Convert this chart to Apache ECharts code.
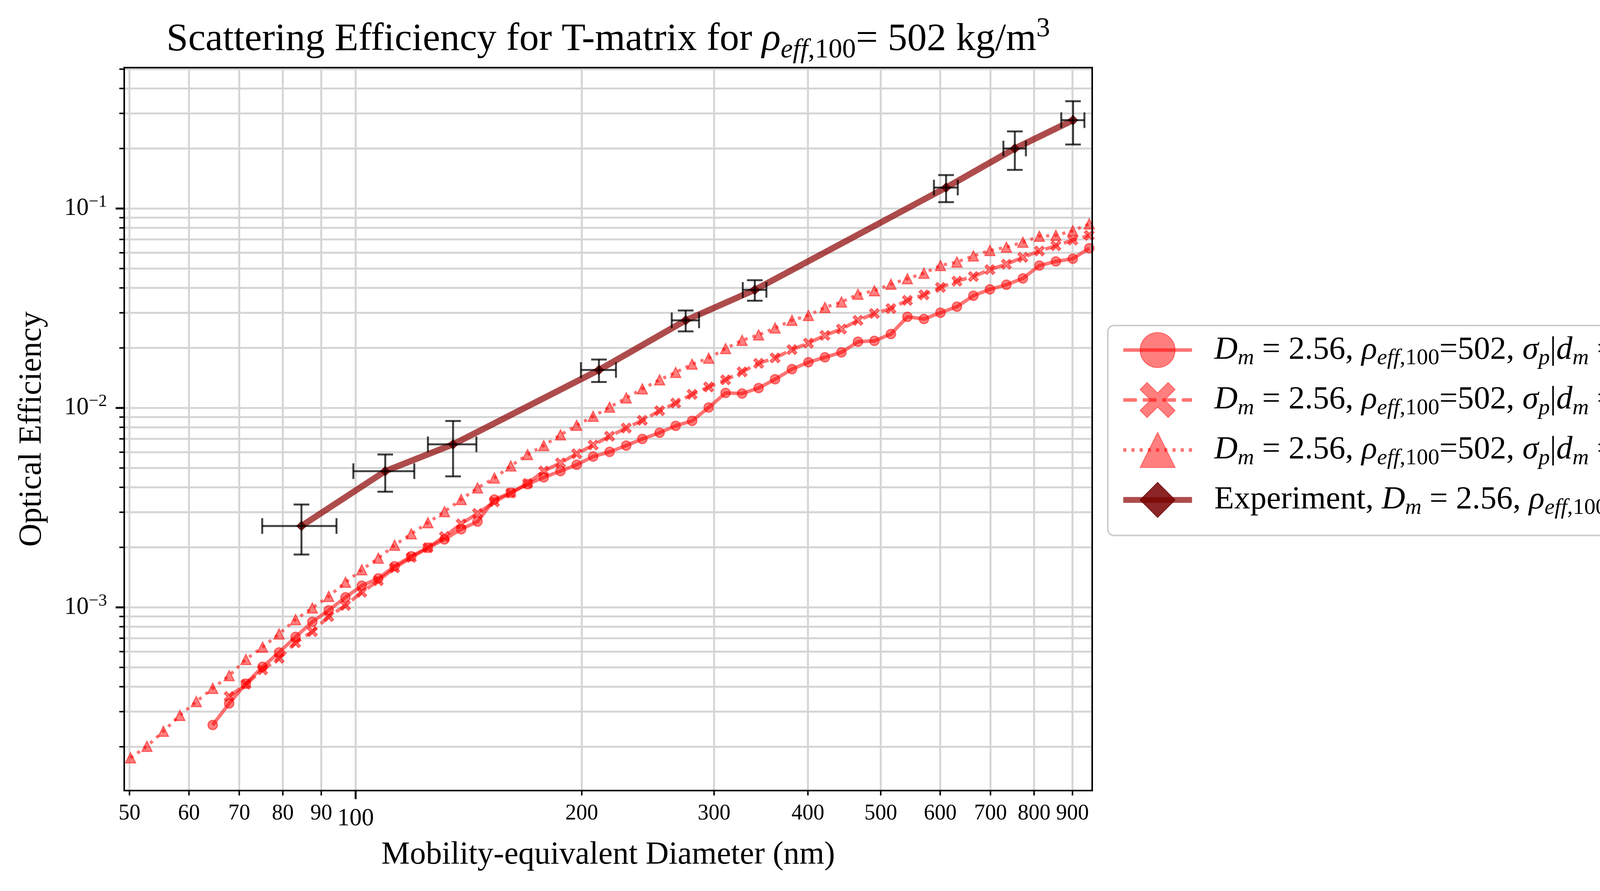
<!DOCTYPE html>
<html>
<head>
<meta charset="utf-8">
<title>Scattering Efficiency for T-matrix</title>
<script src="https://cdn.jsdelivr.net/npm/echarts@6/dist/echarts.min.js"></script>
<style>
html, body { margin: 0; padding: 0; background: #fff; }
#chart { width: 5292px; height: 2280px; }
</style>
</head>
<body>
<div id="chart"></div>
<script>
var SERIF = "'Liberation Serif', 'DejaVu Serif', serif";
var GRID_COLOR = '#d5d5d5';

// axis ranges
var X_MIN = 49.2, X_MAX = 956;
var Y_MIN = 1.206e-4, Y_MAX = 0.509;

// tick positions / labels
var xMinorTicks = [50, 60, 70, 80, 90, 200, 300, 400, 500, 600, 700, 800, 900];
var xMajorTicks = [100];
var yMajorTicks = [0.001, 0.01, 0.1];
var yMajorExp = ['\u22123', '\u22122', '\u22121'];
var yMinorTicks = [2e-4, 3e-4, 4e-4, 5e-4, 6e-4, 7e-4, 8e-4, 9e-4,
    0.002, 0.003, 0.004, 0.005, 0.006, 0.007, 0.008, 0.009,
    0.02, 0.03, 0.04, 0.05, 0.06, 0.07, 0.08, 0.09,
    0.2, 0.3, 0.4, 0.5];

// mobility diameter grid of the T-matrix runs (nm)
var diam = [50.16, 52.75, 55.48, 58.34, 61.36, 64.53, 67.87, 71.44, 75.19, 79.08,
    83.19, 87.57, 92.08, 96.94, 101.9, 107.2, 112.7, 118.6, 124.8, 131.3,
    138.2, 145.3, 153.0, 160.9, 169.4, 178.0, 187.4, 196.9, 207.1, 217.8,
    229.2, 240.8, 253.9, 266.7, 280.5, 295.1, 310.8, 326.9, 343.9, 361.7,
    380.9, 400.6, 421.4, 443.3, 466.3, 490.4, 515.9, 542.6, 570.8, 600.4,
    631.5, 664.2, 698.7, 734.9, 773.0, 813.1, 855.3, 900.7, 947.4];

// sigma_p|dm = 1.0 (starts at diam[5])
var effSig10 = [2.572e-4, 3.300e-4, 4.141e-4, 5.035e-4, 5.943e-4, 7.108e-4, 8.458e-4, 9.669e-4, 1.123e-3, 1.284e-3,
    1.398e-3, 1.608e-3, 1.804e-3, 1.991e-3, 2.193e-3, 2.466e-3, 2.694e-3, 3.474e-3, 3.755e-3, 4.146e-3,
    4.487e-3, 4.826e-3, 5.190e-3, 5.706e-3, 6.021e-3, 6.478e-3, 6.990e-3, 7.515e-3, 8.136e-3, 8.612e-3,
    1.0055e-2, 1.1890e-2, 1.1815e-2, 1.2587e-2, 1.3926e-2, 1.5655e-2, 1.6950e-2, 1.7943e-2, 1.9000e-2, 2.1487e-2,
    2.1692e-2, 2.3479e-2, 2.8653e-2, 2.7936e-2, 3.0042e-2, 3.2215e-2, 3.6555e-2, 3.9321e-2, 4.1493e-2, 4.4617e-2,
    5.1774e-2, 5.4293e-2, 5.6036e-2, 6.3201e-2];
var startSig10 = 5;

// sigma_p|dm = 1.4 (starts at diam[6])
var effSig14 = [3.574e-4, 4.119e-4, 4.862e-4, 5.557e-4, 6.648e-4, 7.558e-4, 8.995e-4, 1.023e-3, 1.191e-3, 1.361e-3,
    1.578e-3, 1.780e-3, 1.991e-3, 2.264e-3, 2.623e-3, 2.958e-3, 3.382e-3, 3.743e-3, 4.185e-3, 4.826e-3,
    5.306e-3, 5.890e-3, 6.519e-3, 7.213e-3, 7.931e-3, 8.667e-3, 9.681e-3, 1.0577e-2, 1.1703e-2, 1.2747e-2,
    1.3838e-2, 1.5173e-2, 1.6737e-2, 1.7830e-2, 1.9605e-2, 2.1150e-2, 2.3110e-2, 2.4858e-2, 2.7500e-2, 2.9757e-2,
    3.1512e-2, 3.4646e-2, 3.6903e-2, 4.0203e-2, 4.3232e-2, 4.5623e-2, 4.9382e-2, 5.2602e-2, 5.6932e-2, 6.1233e-2,
    6.5034e-2, 6.9502e-2, 7.3336e-2];
var startSig14 = 6;

// sigma_p|dm = 1.8 (full grid)
var effSig18 = [1.759e-4, 2.011e-4, 2.393e-4, 2.871e-4, 3.371e-4, 3.925e-4, 4.547e-4, 5.483e-4, 6.320e-4, 7.358e-4,
    8.687e-4, 9.931e-4, 1.135e-3, 1.336e-3, 1.544e-3, 1.765e-3, 2.050e-3, 2.337e-3, 2.658e-3, 3.022e-3,
    3.474e-3, 3.971e-3, 4.454e-3, 5.119e-3, 5.835e-3, 6.478e-3, 7.328e-3, 8.183e-3, 9.086e-3, 1.0087e-2,
    1.1234e-2, 1.2468e-2, 1.3838e-2, 1.5077e-2, 1.6580e-2, 1.7773e-2, 1.9855e-2, 2.1833e-2, 2.3257e-2, 2.5171e-2,
    2.7500e-2, 2.9110e-2, 3.1913e-2, 3.3995e-2, 3.7143e-2, 3.8702e-2, 4.1750e-2, 4.4477e-2, 4.7383e-2, 5.1774e-2,
    5.3951e-2, 5.7844e-2, 6.1622e-2, 6.4007e-2, 6.7764e-2, 7.2643e-2, 7.3336e-2, 7.7385e-2, 8.3770e-2];
var startSig18 = 0;

// experiment
var expDiam = [84.7, 109.5, 134.8, 210.8, 275.0, 339.9, 610.9, 754.2, 901.5];
var expEff = [0.00256, 0.00482, 0.00657, 0.0155, 0.0275, 0.0391, 0.1274, 0.200, 0.2774];
var expDiamErr = [9.6, 10.2, 10.0, 11.3, 11.5, 12.3, 22.3, 26.0, 32.0];
var expEffErr = [0.00072, 0.00102, 0.00203, 0.0020, 0.0033, 0.0046, 0.0197, 0.0437, 0.068];

function pairs(xs, ys, start) {
    var out = [];
    for (var i = 0; i < ys.length; i++) {
        out.push([xs[start + i], ys[i]]);
    }
    return out;
}

var X_PATH = 'path://M0,2 L2,0 L5,3 L8,0 L10,2 L7,5 L10,8 L8,10 L5,7 L2,10 L0,8 L3,5 Z';
var RED_FILL = 'rgba(255,0,0,0.5)';

var legendLabels = {
    'sig10': '{gap|}{i|D}{si|m}{n| = 2.56, }{i|\u03c1}{si|eff}{sn|,100}{n|=502, }{i|\u03c3}{si|p}{n||}{i|d}{si|m}{n| = 1.0, }{i|D}{si|TEM}{n| = 0.45, }{i|d}{si|p}{sn|,100}{n| = 17.4}',
    'sig14': '{gap|}{i|D}{si|m}{n| = 2.56, }{i|\u03c1}{si|eff}{sn|,100}{n|=502, }{i|\u03c3}{si|p}{n||}{i|d}{si|m}{n| = 1.4, }{i|D}{si|TEM}{n| = 0.45, }{i|d}{si|p}{sn|,100}{n| = 17.4}',
    'sig18': '{gap|}{i|D}{si|m}{n| = 2.56, }{i|\u03c1}{si|eff}{sn|,100}{n|=502, }{i|\u03c3}{si|p}{n||}{i|d}{si|m}{n| = 1.8, }{i|D}{si|TEM}{n| = 0.45, }{i|d}{si|p}{sn|,100}{n| = 17.4}',
    'exp': '{gap|}{n|Experiment, }{i|D}{si|m}{n| = 2.56, }{i|\u03c1}{si|eff}{sn|,100}{n|=502, }{i|D}{si|TEM}{n| = 0.45, }{i|d}{si|p}{sn|,100}{n| = 17.4}'
};

function gridSeries(data, vertical) {
    return {
        type: 'custom', silent: true, z: 1, clip: false,
        data: data,
        renderItem: function (params, api) {
            var a, b;
            if (vertical) {
                a = api.coord([api.value(0), Y_MIN]);
                b = api.coord([api.value(0), Y_MAX]);
            } else {
                a = api.coord([X_MIN, api.value(1)]);
                b = api.coord([X_MAX, api.value(1)]);
            }
            return {type: 'line', shape: {x1: a[0], y1: a[1], x2: b[0], y2: b[1]},
                style: {stroke: GRID_COLOR, lineWidth: 5}};
        }
    };
}

function xTickSeries(ticks, len, width, fontSize, gap) {
    return {
        type: 'custom', silent: true, z: 20, clip: false,
        data: ticks.map(function (v) { return [v, Y_MIN]; }),
        renderItem: function (params, api) {
            var v = api.value(0);
            var p = api.coord([v, Y_MIN]);
            return {type: 'group', children: [
                {type: 'line', shape: {x1: p[0], y1: p[1], x2: p[0], y2: p[1] + len},
                    style: {stroke: '#000', lineWidth: width}},
                {type: 'text', x: p[0], y: p[1] + len + gap,
                    style: {text: String(v), fontFamily: SERIF, fontSize: fontSize, fill: '#000',
                        align: 'center', verticalAlign: 'top'}}
            ]};
        }
    };
}

function yTickSeries(ticks, len, width, labels) {
    return {
        type: 'custom', silent: true, z: 20, clip: false,
        data: ticks.map(function (v) { return [X_MIN, v]; }),
        renderItem: function (params, api) {
            var p = api.coord([X_MIN, api.value(1)]);
            var children = [
                {type: 'line', shape: {x1: p[0] - len, y1: p[1], x2: p[0], y2: p[1]},
                    style: {stroke: '#000', lineWidth: width}}
            ];
            if (labels) {
                children.push({type: 'text', x: p[0] - len - 22, y: p[1],
                    style: {text: '{b|10}{s|' + labels[params.dataIndex] + '}', fill: '#000',
                        align: 'right', verticalAlign: 'middle',
                        rich: {
                            b: {fontFamily: SERIF, fontSize: 63, lineHeight: 76},
                            s: {fontFamily: SERIF, fontSize: 44, lineHeight: 32, verticalAlign: 'top'}
                        }}});
            }
            return {type: 'group', children: children};
        }
    };
}

var errData = [];
for (var k = 0; k < expDiam.length; k++) {
    errData.push([expDiam[k], expEff[k], expDiamErr[k], expEffErr[k]]);
}

var myChart = echarts.init(document.getElementById('chart'));
var allX = xMinorTicks.concat(xMajorTicks);
var allY = yMinorTicks.concat(yMajorTicks);

option = {
    backgroundColor: '#fff',
    animation: false,
    title: {
        text: '{t|Scattering Efficiency for T-matrix for }{ti|\u03c1}{tsi|eff}{tsn|,100}{t|= 502 kg/m}{tsup|3}',
        left: 1557,
        top: 40,
        padding: 0,
        textAlign: 'center',
        textStyle: {
            fontWeight: 'normal',
            rich: {
                t: {fontFamily: SERIF, fontWeight: 'normal', fontSize: 100, lineHeight: 124, color: '#000'},
                ti: {fontFamily: SERIF, fontWeight: 'normal', fontStyle: 'italic', fontSize: 100, lineHeight: 124, color: '#000'},
                tsi: {fontFamily: SERIF, fontWeight: 'normal', fontStyle: 'italic', fontSize: 70, lineHeight: 80, verticalAlign: 'bottom', color: '#000'},
                tsn: {fontFamily: SERIF, fontWeight: 'normal', fontSize: 70, lineHeight: 80, verticalAlign: 'bottom', color: '#000'},
                tsup: {fontFamily: SERIF, fontWeight: 'normal', fontSize: 70, lineHeight: 72, verticalAlign: 'top', color: '#000'}
            }
        }
    },
    grid: {
        left: 318, top: 173, width: 2478, height: 1850,
        show: true, z: 30, borderColor: '#000', borderWidth: 4, backgroundColor: 'transparent'
    },
    xAxis: {
        type: 'log', logBase: 10, min: X_MIN, max: X_MAX,
        axisLine: {show: false}, axisTick: {show: false}, axisLabel: {show: false}, splitLine: {show: false},
        name: 'Mobility-equivalent Diameter (nm)',
        nameLocation: 'middle', nameGap: 124,
        nameTextStyle: {fontFamily: SERIF, fontSize: 82, color: '#000'}
    },
    yAxis: {
        type: 'log', logBase: 10, min: Y_MIN, max: Y_MAX,
        axisLine: {show: false}, axisTick: {show: false}, axisLabel: {show: false}, splitLine: {show: false},
        name: 'Optical Efficiency',
        nameLocation: 'middle', nameGap: 195,
        nameTextStyle: {fontFamily: SERIF, fontSize: 82, color: '#000'}
    },
    legend: {
        orient: 'vertical',
        left: 2836, top: 833,
        padding: [17, 60, 41, 32],
        itemWidth: 176, itemHeight: 112, itemGap: 32,
        backgroundColor: 'rgba(255,255,255,0.8)',
        borderColor: '#cccccc', borderWidth: 4, borderRadius: 16,
        data: [
            {name: 'sig10', lineStyle: {width: 9}},
            {name: 'sig14', lineStyle: {width: 9}},
            {name: 'sig18', lineStyle: {width: 9}},
            {name: 'exp', lineStyle: {width: 15}}
        ],
        formatter: function (name) { return legendLabels[name]; },
        textStyle: {
            fontFamily: SERIF, fontSize: 83, color: '#000',
            rich: {
                gap: {width: 52},
                n: {fontFamily: SERIF, fontSize: 83, lineHeight: 100, color: '#000'},
                i: {fontFamily: SERIF, fontStyle: 'italic', fontSize: 83, lineHeight: 100, color: '#000'},
                si: {fontFamily: SERIF, fontStyle: 'italic', fontSize: 58, lineHeight: 63, verticalAlign: 'bottom', color: '#000'},
                sn: {fontFamily: SERIF, fontSize: 58, lineHeight: 63, verticalAlign: 'bottom', color: '#000'}
            }
        }
    },
    series: [
        gridSeries(allX.map(function (v) { return [v, Y_MIN]; }), true),
        gridSeries(allY.map(function (v) { return [X_MIN, v]; }), false),
        {
            name: 'sig10', type: 'line', z: 5,
            data: pairs(diam, effSig10, startSig10),
            symbol: 'circle', symbolSize: 24,
            lineStyle: {color: 'rgb(255,0,0)', width: 9, opacity: 0.55},
            itemStyle: {color: RED_FILL, borderColor: 'rgba(255,0,0,0.5)', borderWidth: 3}
        },
        {
            name: 'sig14', type: 'line', z: 5,
            data: pairs(diam, effSig14, startSig14),
            symbol: X_PATH, symbolSize: 25,
            lineStyle: {color: 'rgb(255,0,0)', width: 9, opacity: 0.55, type: [35, 15]},
            itemStyle: {color: RED_FILL, borderColor: 'rgba(255,0,0,0.5)', borderWidth: 3}
        },
        {
            name: 'sig18', type: 'line', z: 5,
            data: pairs(diam, effSig18, startSig18),
            symbol: 'triangle', symbolSize: 26,
            lineStyle: {color: 'rgb(255,0,0)', width: 8, opacity: 0.55, type: [8, 13]},
            itemStyle: {color: RED_FILL, borderColor: 'rgba(255,0,0,0.5)', borderWidth: 3}
        },
        {
            name: 'exp', type: 'line', z: 6,
            data: pairs(expDiam, expEff, 0),
            symbol: 'diamond', symbolSize: 24,
            lineStyle: {color: 'rgb(139,0,0)', width: 16, opacity: 0.7},
            itemStyle: {color: 'rgba(120,0,0,0.85)', borderColor: 'rgba(100,0,0,0.8)', borderWidth: 2}
        },
        {
            type: 'custom', silent: true, z: 7,
            data: errData,
            encode: {x: 0, y: 1},
            renderItem: function (params, api) {
                var x = api.value(0), y = api.value(1), dx = api.value(2), dy = api.value(3);
                var c = api.coord([x, y]);
                var l = api.coord([x - dx, y]), r = api.coord([x + dx, y]);
                var t = api.coord([x, y + dy]), b = api.coord([x, y - dy]);
                var cap = 20;
                var st = {stroke: 'rgba(0,0,0,0.75)', lineWidth: 5};
                return {type: 'group', children: [
                    {type: 'line', shape: {x1: l[0], y1: c[1], x2: r[0], y2: c[1]}, style: st},
                    {type: 'line', shape: {x1: l[0], y1: c[1] - cap, x2: l[0], y2: c[1] + cap}, style: st},
                    {type: 'line', shape: {x1: r[0], y1: c[1] - cap, x2: r[0], y2: c[1] + cap}, style: st},
                    {type: 'line', shape: {x1: c[0], y1: t[1], x2: c[0], y2: b[1]}, style: st},
                    {type: 'line', shape: {x1: c[0] - cap, y1: t[1], x2: c[0] + cap, y2: t[1]}, style: st},
                    {type: 'line', shape: {x1: c[0] - cap, y1: b[1], x2: c[0] + cap, y2: b[1]}, style: st}
                ]};
            }
        },
        xTickSeries(xMinorTicks, 12.5, 3.8, 56, 19),
        xTickSeries(xMajorTicks, 22, 5, 62.5, 19),
        yTickSeries(yMinorTicks, 12.5, 3.8, null),
        yTickSeries(yMajorTicks, 22, 5, yMajorExp)
    ]
};

myChart.setOption(option);
</script>
</body>
</html>
